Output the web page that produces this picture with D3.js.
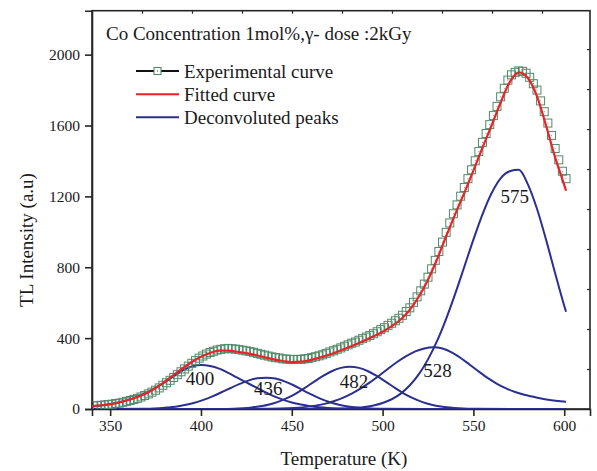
<!DOCTYPE html>
<html>
<head>
<meta charset="utf-8">
<script src="https://cdn.jsdelivr.net/npm/d3@7"></script>
<style>
  body { margin: 0; background: #fff; }
  svg text { font-family: "Liberation Serif", "Times New Roman", serif; fill: #1a1a1a; }
</style>
</head>
<body>
<svg id="chart" width="597" height="471"></svg>
<script>
// ---- Glow curve: fitted curve (temperature K, intensity a.u.) ----
const fitTemps  = [340,345,350,355,360,365,370,375,380,385,390,395,400,405,410,415,420,425,430,435,
                   440,445,450,455,460,465,470,475,480,485,490,495,500,505,510,515,520,525,530,535,
                   540,545,550,555,560,565,570,575,580,585,590,595,600,601];
const fitValues = [17,21,26,37,51,68,89,118,154,192,230,265,295,316,329,330,323,315,305,292,
                   280,271,265,267,276,289,305,323,343,364,386,410,436,468,505,560,635,730,845,975,
                   1100,1220,1345,1475,1600,1730,1845,1900,1868,1765,1600,1420,1265,1232];

// ---- Experimental points (2 K steps) ----
const expTemps  = [341,343,345,347,349,351,353,355,357,359,361,363,365,367,369,371,373,375,377,379,
                   381,383,385,387,389,391,393,395,397,399,401,403,405,407,409,411,413,415,417,419,
                   421,423,425,427,429,431,433,435,437,439,441,443,445,447,449,451,453,455,457,459,
                   461,463,465,467,469,471,473,475,477,479,481,483,485,487,489,491,493,495,497,499,
                   501,503,505,507,509,511,513,515,517,519,521,523,525,527,529,531,533,535,537,539,
                   541,543,545,547,549,551,553,555,557,559,561,563,565,567,569,571,573,575,577,579,
                   581,583,585,587,589,591,593,595,597,599,601];
const expValues = [18,19,21,23,25,27,31,33,38,43,48,54,60,68,76,85,95,106,119,134,
                   148,162,178,194,210,226,242,258,273,287,299,310,319,326,333,337,340,342,340,338,
                   335,332,328,324,320,314,309,304,299,294,290,288,283,282,280,279,280,280,283,285,
                   290,295,300,306,314,322,329,337,345,354,362,371,378,388,397,406,415,425,436,448,
                   459,472,484,498,512,529,550,571,602,633,667,705,744,791,839,889,942,997,1050,1102,
                   1152,1201,1250,1300,1350,1401,1453,1505,1555,1605,1656,1708,1762,1810,1856,1886,1900,1908,1906,1895,
                   1872,1836,1800,1739,1678,1614,1544,1470,1406,1342,1300];

// ---- Deconvoluted glow peaks, [temperature, intensity] ----
const peak400 = [[340,14],[345,20],[350,28],[355,38],[360,52],[365,70],[370,92],[375,120],[380,150],[385,185],
                 [390,218],[395,240],[400,248],[405,243],[410,228],[415,204],[420,177],[425,150],[430,123],[435,97],
                 [440,73],[445,53],[450,37],[455,25],[460,16],[465,10],[470,6],[480,2],[500,0.5],[540,0],[601,0]];
const peak436 = [[340,0],[370,1],[381,8],[386,13],[391,22],[396,34],[401,50],[406,70],[411,93],[416,117],
                 [421,140],[426,160],[431,173],[436,177],[441,172],[446,156],[451,134],[456,107],[461,81],[466,57],
                 [471,38],[476,24],[481,14],[486,8],[491,4],[501,1],[540,0],[601,0]];
const peak482 = [[340,0],[410,0.5],[418,2],[428,9],[437,24],[442,39],[447,60],[452,86],[457,118],[462,152],
                 [467,185],[472,213],[477,232],[482,239],[487,232],[492,213],[497,185],[502,152],[507,118],[512,86],
                 [517,60],[522,39],[527,24],[532,14],[537,8],[542,4],[552,1],[601,0]];
const peak528 = [[340,0],[418,0.5],[438,1.3],[448,4],[458,12],[468,29],[473,44],[478,63],[483,87],[488,116],
                 [493,150],[498,188],[503,227],[508,265],[513,298],[518,325],[523,342],[528,348],[533,341],[538,320],
                 [543,288],[548,250],[553,211],[558,174],[563,142],[568,116],[573,96],[578,80],[583,69],[588,58],
                 [593,50],[598,44],[601,41]];
const peak575 = [[340,0],[470,0.5],[480,3],[490,11],[500,34],[505,55],[510,87],[515,134],[520,197],[525,280],
                 [530,384],[535,509],[540,651],[545,803],[550,956],[555,1099],[560,1218],[565,1302],[570,1342],[575,1350],
                 [580,1268],[585,1130],[590,956],[595,766],[600,583],[601,549]];

const peakCurves = [peak400, peak436, peak482, peak528, peak575];
const peakLabels = [400, 436, 482, 528, 575];

const xTicks = [350, 400, 450, 500, 550, 600];
const yTicks = [0, 400, 800, 1200, 1600, 2000];

const legendItems = ["Experimental curve", "Fitted curve", "Deconvoluted peaks"];
const titleText = "Co Concentration 1mol%,\u03b3- dose :2kGy";

// ---- Layout ----
const plot = { left: 92, right: 590, top: 10.7, bottom: 409 };
const colors = { fit: "#e8232a", peak: "#2b2f8f", exp: "#4f8a68", axis: "#262626" };

const svg = d3.select("#chart");
const x = d3.scaleLinear().domain([340, 614.2]).range([plot.left, plot.right]);
const y = d3.scaleLinear().domain([0, 2248]).range([plot.bottom, plot.top]);

// Mirror scales for the decorative ticks on the top and right frame edges
const xTop = d3.scaleLinear().domain([0, 9.96]).range([plot.left, plot.right]);
const yRight = d3.scaleLinear().domain([0, 9.96]).range([plot.bottom, plot.top]);

// Frame
svg.append("rect")
  .attr("x", plot.left).attr("y", plot.top)
  .attr("width", plot.right - plot.left).attr("height", plot.bottom - plot.top)
  .attr("fill", "none").attr("stroke", colors.axis).attr("stroke-width", 1.6);

// Bottom axis
const gx = svg.append("g").attr("transform", `translate(0,${plot.bottom})`)
  .call(d3.axisBottom(x).tickValues(xTicks).tickSize(7).tickPadding(4).tickFormat(d3.format("d")));
// Left axis
const gy = svg.append("g").attr("transform", `translate(${plot.left},0)`)
  .call(d3.axisLeft(y).tickValues(yTicks).tickSize(7).tickPadding(5).tickFormat(d3.format("d")));
[gx, gy].forEach(g => {
  g.select(".domain").attr("stroke", colors.axis).attr("stroke-width", 1.6);
  g.selectAll(".tick line").attr("stroke", colors.axis).attr("stroke-width", 1.6);
  g.selectAll(".tick text").attr("font-size", 15.5).attr("fill", "#1a1a1a")
    .style("font-family", "'Liberation Serif', 'Times New Roman', serif");
});

// Top and right inward ticks
const gt = svg.append("g").attr("transform", `translate(0,${plot.top})`)
  .call(d3.axisTop(xTop).tickValues(d3.range(1, 10)).tickSize(-3).tickFormat(""));
const gr = svg.append("g").attr("transform", `translate(${plot.right},0)`)
  .call(d3.axisRight(yRight).tickValues(d3.range(1, 10)).tickSize(-3).tickFormat(""));
[gt, gr].forEach(g => {
  g.select(".domain").remove();
  g.selectAll(".tick line").attr("stroke", colors.axis).attr("stroke-width", 1.2);
});

// Axis titles
svg.append("text")
  .attr("x", 344).attr("y", 465).attr("text-anchor", "middle").attr("font-size", 19)
  .text("Temperature (K)");
svg.append("text")
  .attr("transform", "translate(33,240) rotate(-90)").attr("text-anchor", "middle").attr("font-size", 19)
  .text("TL Intensity (a.u)");

// Clip to the plotting area
svg.append("clipPath").attr("id", "plotClip")
  .append("rect").attr("x", plot.left).attr("y", plot.top)
  .attr("width", plot.right - plot.left).attr("height", plot.bottom - plot.top);
const area = svg.append("g").attr("clip-path", "url(#plotClip)");

// Deconvoluted peaks
const peakLine = d3.line().x(d => x(d[0])).y(d => y(d[1])).curve(d3.curveMonotoneX);
area.selectAll("path.peak").data(peakCurves).join("path")
  .attr("class", "peak")
  .attr("d", peakLine)
  .attr("fill", "none").attr("stroke", colors.peak).attr("stroke-width", 2);

// Experimental points: open squares with a centre dot
const expData = expTemps.map((t, i) => [t, expValues[i]]);
const sq = 8;
const pts = area.selectAll("g.pt").data(expData).join("g").attr("class", "pt")
  .attr("transform", d => `translate(${x(d[0])},${y(d[1])})`);
pts.append("rect")
  .attr("x", -sq / 2).attr("y", -sq / 2).attr("width", sq).attr("height", sq)
  .attr("fill", "none").attr("stroke", colors.exp).attr("stroke-width", 1);
pts.append("rect")
  .attr("x", -0.4).attr("y", -0.4).attr("width", 0.8).attr("height", 0.8).attr("fill", "#555");

// Fitted curve
const fitData = fitTemps.map((t, i) => [t, fitValues[i]]);
area.append("path")
  .datum(fitData)
  .attr("d", d3.line().x(d => x(d[0])).y(d => y(d[1])).curve(d3.curveMonotoneX))
  .attr("fill", "none").attr("stroke", colors.fit).attr("stroke-width", 2.2);

// Peak temperature labels
const labelNudge = [[-1, 20], [2, 17], [4, 21], [4, 30], [-4, 33]];
svg.selectAll("text.peakLabel").data(peakLabels).join("text")
  .attr("class", "peakLabel")
  .attr("x", (d, i) => x(d) + labelNudge[i][0])
  .attr("y", (d, i) => y(d3.max(peakCurves[i], p => p[1])) + labelNudge[i][1])
  .attr("text-anchor", "middle").attr("font-size", 19)
  .text(d => d);

// Title
svg.append("text").attr("x", 106).attr("y", 40).attr("font-size", 19).text(titleText);

// Legend
const lg = svg.append("g");
const legY = [71, 94.3, 117.3];
const legColors = ["#111", colors.fit, colors.peak];
legendItems.forEach((label, i) => {
  lg.append("line").attr("x1", 136).attr("x2", 179).attr("y1", legY[i]).attr("y2", legY[i])
    .attr("stroke", legColors[i]).attr("stroke-width", 2);
  if (i === 0) {
    lg.append("rect").attr("x", 157.5 - 3.5).attr("y", legY[i] - 3.5).attr("width", 7).attr("height", 7)
      .attr("fill", "#fff").attr("stroke", colors.exp).attr("stroke-width", 1.1);
    lg.append("rect").attr("x", 157).attr("y", legY[i] - 0.5).attr("width", 1).attr("height", 1).attr("fill", "#333");
  }
  lg.append("text").attr("x", 184).attr("y", legY[i] + 6.5).attr("font-size", 19).text(label);
});
</script>
</body>
</html>
